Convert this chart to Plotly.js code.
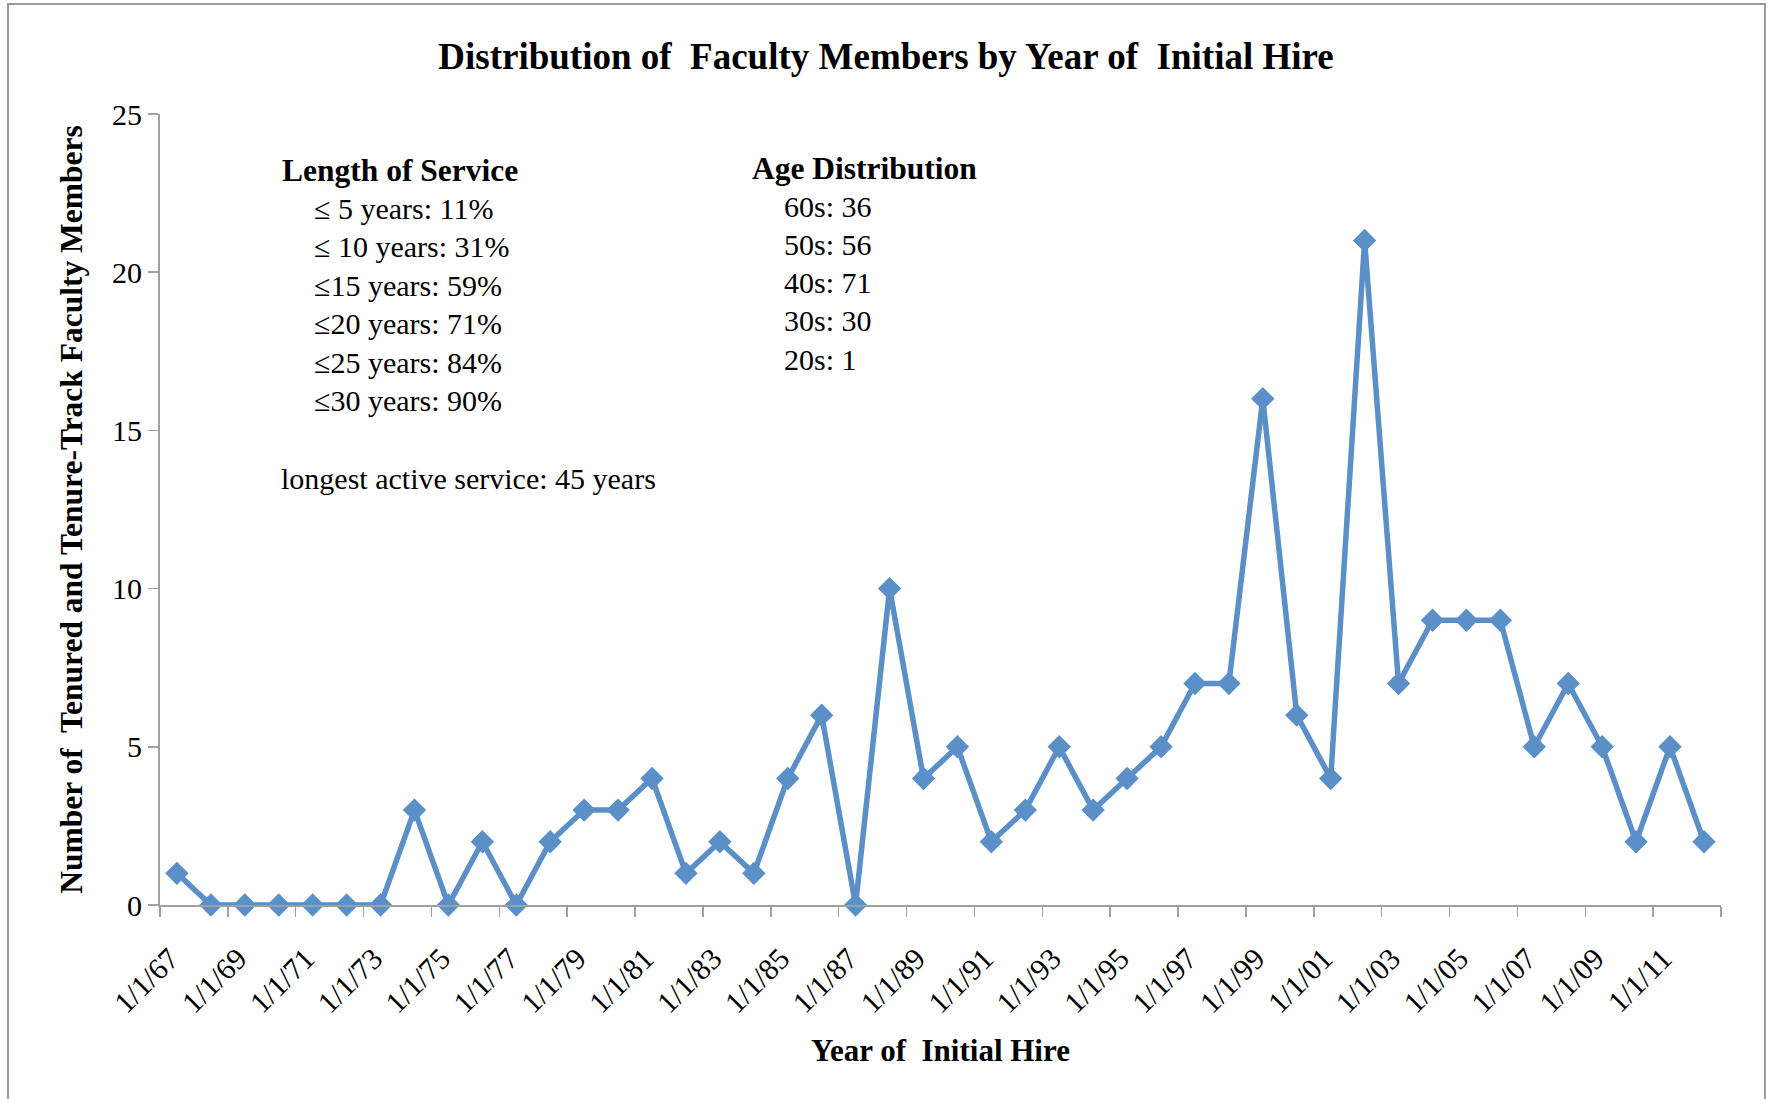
<!DOCTYPE html>
<html>
<head>
<meta charset="utf-8">
<script src="https://cdn.plot.ly/plotly-3.0.1.min.js"></script>
<style>
  html, body { margin: 0; padding: 0; background: #fff; }
  #chart { width: 1772px; height: 1099px; }
</style>
</head>
<body>
<div id="chart"></div>
<script>
// ---- data ----
const hireYears = [1967,1968,1969,1970,1971,1972,1973,1974,1975,1976,1977,1978,1979,1980,1981,1982,1983,1984,1985,1986,1987,1988,1989,1990,1991,1992,1993,1994,1995,1996,1997,1998,1999,2000,2001,2002,2003,2004,2005,2006,2007,2008,2009,2010,2011,2012];
const facultyCounts = [1,0,0,0,0,0,0,3,0,2,0,2,3,3,4,1,2,1,4,6,0,10,4,5,2,3,5,3,4,5,7,7,16,6,4,21,7,9,9,9,5,7,5,2,5,2];
const tickYears = [1967,1969,1971,1973,1975,1977,1979,1981,1983,1985,1987,1989,1991,1993,1995,1997,1999,2001,2003,2005,2007,2009,2011,2013];
const tickLabels = ["1/1/67","1/1/69","1/1/71","1/1/73","1/1/75","1/1/77","1/1/79","1/1/81","1/1/83","1/1/85","1/1/87","1/1/89","1/1/91","1/1/93","1/1/95","1/1/97","1/1/99","1/1/01","1/1/03","1/1/05","1/1/07","1/1/09","1/1/11",""];
const serviceHeader = "Length of Service";
const serviceLines = ["≤ 5 years: 11%","≤ 10 years: 31%","≤15 years: 59%","≤20 years: 71%","≤25 years: 84%","≤30 years: 90%"];
const longestNote = "longest active service: 45 years";
const ageHeader = "Age Distribution";
const ageLines = ["60s: 36","50s: 56","40s: 71","30s: 30","20s: 1"];

// ---- geometry (pixels) ----
const W = 1772, H = 1099;
const L = 160, R = 1721, T = 114, B = 905;
const pw = R - L, ph = B - T;
const px = x => (x - L) / pw;
const py = y => (B - y) / ph;

const FONT = "Liberation Serif, Times New Roman, serif";
const BLUE = "#5b8fc7";
const AXIS = "#a0a0a0";

const trace = {
  x: hireYears.map(y => y + "-07-02"),
  y: facultyCounts,
  type: "scatter",
  mode: "lines+markers",
  line: { color: BLUE, width: 5.5 },
  marker: { symbol: "diamond", size: 18, color: BLUE },
  cliponaxis: false,
  hoverinfo: "x+y"
};

const annotations = [];
const textFont = { family: FONT, size: 30, color: "#000" };
const boldFont = { family: FONT, size: 31.5, color: "#000", weight: "bold" };
annotations.push({ xref: "paper", yref: "paper", x: px(280), y: py(170), xanchor: "left", yanchor: "middle", showarrow: false, text: "<b>" + serviceHeader + "</b>", font: boldFont });
serviceLines.forEach((t, i) => {
  annotations.push({ xref: "paper", yref: "paper", x: px(312), y: py(208 + i * 38.5), xanchor: "left", yanchor: "middle", showarrow: false, text: t, font: textFont });
});
annotations.push({ xref: "paper", yref: "paper", x: px(279), y: py(478), xanchor: "left", yanchor: "middle", showarrow: false, text: longestNote, font: textFont });
annotations.push({ xref: "paper", yref: "paper", x: px(750), y: py(168), xanchor: "left", yanchor: "middle", showarrow: false, text: "<b>" + ageHeader + "</b>", font: boldFont });
ageLines.forEach((t, i) => {
  annotations.push({ xref: "paper", yref: "paper", x: px(782), y: py(206 + i * 38.3), xanchor: "left", yanchor: "middle", showarrow: false, text: t, font: textFont });
});

const layout = {
  width: W, height: H,
  margin: { l: L, r: W - R, t: T, b: H - B },
  paper_bgcolor: "#fff",
  plot_bgcolor: "#fff",
  showlegend: false,
  title: {
    text: "<b>Distribution of  Faculty Members by Year of  Initial Hire</b>",
    font: { family: FONT, size: 37, color: "#000" },
    xref: "container", x: 886 / W, xanchor: "center",
    yref: "container", y: 1 - 56 / H, yanchor: "middle"
  },
  xaxis: {
    type: "date",
    range: ["1967-01-01", "2013-01-01"],
    tickmode: "array",
    tickvals: tickYears.map(y => y + "-01-01"),
    ticktext: tickLabels,
    tickangle: -45,
    ticks: "outside", ticklen: 10, tickwidth: 1.5, tickcolor: AXIS,
    showline: true, linecolor: AXIS, linewidth: 2,
    showgrid: false, zeroline: false,
    tickfont: { family: FONT, size: 30, color: "#000" },
    ticklabelstandoff: 12,
    ticklabelshift: 10,
    title: { text: "<b>Year of  Initial Hire</b>", font: { family: FONT, size: 31, color: "#000" }, standoff: 21 },
    automargin: false, fixedrange: true
  },
  yaxis: {
    range: [0, 25],
    tickvals: [0, 5, 10, 15, 20, 25],
    ticks: "outside", ticklen: 10, tickwidth: 1.5, tickcolor: AXIS,
    showline: true, linecolor: AXIS, linewidth: 2,
    showgrid: false, zeroline: false,
    tickfont: { family: FONT, size: 30, color: "#000" },
    title: { text: "<b>Number of  Tenured and Tenure-Track Faculty Members</b>", font: { family: FONT, size: 31.5, color: "#000" }, standoff: 20 },
    automargin: false, fixedrange: true
  },
  annotations: annotations,
  shapes: [{
    type: "rect", xref: "paper", yref: "paper",
    x0: px(8), x1: px(1765), y0: py(1115), y1: py(4),
    line: { color: "#9a9a9a", width: 2 }, fillcolor: "rgba(0,0,0,0)", layer: "below"
  }]
};

Plotly.newPlot("chart", [trace], layout, { displayModeBar: false, staticPlot: true });
</script>
</body>
</html>
